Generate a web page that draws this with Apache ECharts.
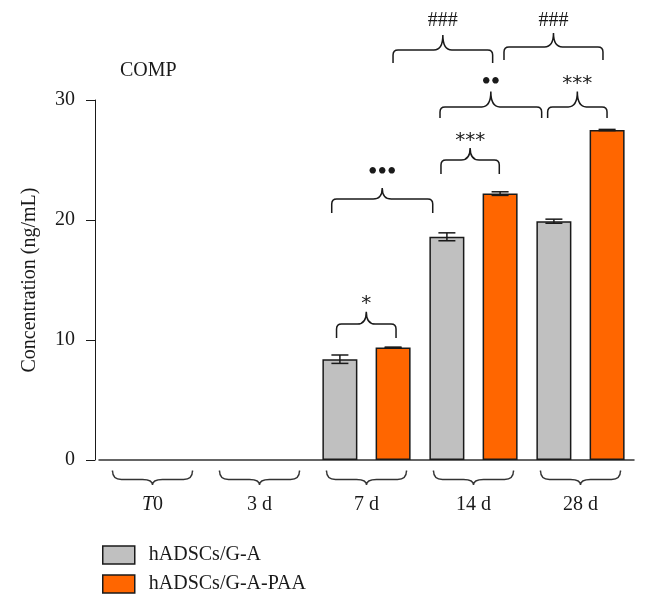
<!DOCTYPE html>
<html>
<head>
<meta charset="utf-8">
<script src="https://cdn.jsdelivr.net/npm/echarts@6/dist/echarts.min.js"></script>
<style>
  html, body { margin: 0; padding: 0; background: #fff; }
  #main { width: 650px; height: 606px; }
</style>
</head>
<body>
<div id="main"></div>
<script>
// data
var categories = ['T0', '3 d', '7 d', '14 d', '28 d'];
var seriesNames = ['hADSCs/G-A', 'hADSCs/G-A-PAA'];
var gaMean = [0, 0, 8.4, 18.6, 19.9];
var gaErr = [0, 0, 0.35, 0.33, 0.17];
var paaMean = [0, 0, 9.38, 22.2, 27.5];
var paaErr = [0, 0, 0.03, 0.15, 0.05];
var yTicks = [0, 10, 20, 30];

// significance braces: from / to (category index units), end, middle, peak and label height (ng/mL)
var braceFrom = [1.72, 1.675, 2.696, 2.687, 3.693, 2.248, 3.285];
var braceTo = [2.276, 2.619, 3.241, 3.637, 4.248, 3.179, 4.21];
var braceEnd = [10.17, 20.58, 23.83, 28.5, 28.5, 33.08, 33.33];
var braceMid = [11.33, 21.75, 25, 29.42, 29.42, 34.17, 34.42];
var bracePeak = [12.36, 22.67, 26, 30.7, 30.7, 35.42, 35.58];
var braceTextY = [13.5, 23.9, 27.1, 31.4, 31.83, 36.58, 36.58];
var braceText = ['*', '\u2022\u2022\u2022', '***', '\u2022\u2022', '***', '###', '###'];

var serif = '"Liberation Serif", "Times New Roman", serif';
var sans = '"DejaVu Sans", sans-serif';
var ink = '#1a1a1a';
var grey = '#c0c0c0';
var orange = '#ff6600';
var barWidth = 35;
var barGapRatio = 0.52;
var barShift = (barWidth + barWidth * barGapRatio) / 2;

function bracePath(x0, x1, yE, yH, yP, r, c) {
  var xm = (x0 + x1) / 2;
  var s = yE > yH ? 1 : -1;
  return 'M' + x0 + ',' + yE + ' L' + x0 + ',' + (yH + s * r) +
    ' Q' + x0 + ',' + yH + ' ' + (x0 + r) + ',' + yH +
    ' L' + (xm - c) + ',' + yH + ' Q' + xm + ',' + yH + ' ' + xm + ',' + yP +
    ' M' + xm + ',' + yP + ' Q' + xm + ',' + yH + ' ' + (xm + c) + ',' + yH +
    ' L' + (x1 - r) + ',' + yH + ' Q' + x1 + ',' + yH + ' ' + x1 + ',' + (yH + s * r) +
    ' L' + x1 + ',' + yE;
}

// text style for a brace label: asterisks in sans, bullets bigger, hashes in serif
function labelStyle(t) {
  if (t.charAt(0) === '*') return { fontFamily: sans, fontSize: 20, dy: 6 };
  if (t.charAt(0) === '\u2022') return { fontFamily: serif, fontSize: 27, dy: 0 };
  return { fontFamily: serif, fontSize: 20, dy: 0 };
}

function errorSeries(mean, err, shift) {
  return {
    type: 'custom',
    z: 5,
    clip: false,
    silent: true,
    encode: { x: 0, y: 1 },
    data: mean.map(function (m, i) { return [i, m, err[i]]; }),
    renderItem: function (params, api) {
      var i = api.value(0), m = api.value(1), e = api.value(2);
      if (!(e > 0)) return null;
      var x = api.coord([i, m])[0] + shift;
      var yt = api.coord([i, m + e])[1];
      var yb = api.coord([i, m - e])[1];
      var cap = 8.5;
      var st = { stroke: ink, lineWidth: 1.5 };
      return {
        type: 'group',
        children: [
          { type: 'line', shape: { x1: x, y1: yt, x2: x, y2: yb }, style: st },
          { type: 'line', shape: { x1: x - cap, y1: yt, x2: x + cap, y2: yt }, style: st },
          { type: 'line', shape: { x1: x - cap, y1: yb, x2: x + cap, y2: yb }, style: st }
        ]
      };
    }
  };
}

// zero means nothing was drawn for that group
function barData(values) {
  return values.map(function (v) { return v === 0 ? '-' : v; });
}

var chart = echarts.init(document.getElementById('main'));

var option = {
  animation: false,
  backgroundColor: '#fff',
  title: {
    text: 'COMP',
    left: 120,
    top: 61,
    padding: 0,
    textStyle: { fontFamily: serif, fontSize: 20, fontWeight: 'normal', color: ink }
  },
  legend: {
    orient: 'vertical',
    left: 97,
    top: 540,
    itemWidth: 32,
    itemHeight: 18,
    itemGap: 9,
    icon: 'rect',
    textStyle: { fontFamily: serif, fontSize: 20, color: ink, padding: [0, 0, 0, 9] },
    data: [
      { name: seriesNames[0], itemStyle: { color: grey, borderColor: ink, borderWidth: 1.5 } },
      { name: seriesNames[1], itemStyle: { color: orange, borderColor: ink, borderWidth: 1.5 } }
    ]
  },
  grid: { left: 99, right: 16, top: 100, bottom: 146, containLabel: false },
  xAxis: {
    type: 'category',
    data: categories,
    axisLine: { lineStyle: { color: '#333', width: 1.5 } },
    axisTick: { show: false },
    axisLabel: {
      margin: 35,
      color: ink,
      fontFamily: serif,
      fontSize: 20,
      formatter: function (v) { return v === 'T0' ? '{i|T}0' : v; },
      rich: { i: { fontStyle: 'italic', fontFamily: serif, fontSize: 20, color: ink } }
    }
  },
  yAxis: {
    type: 'value',
    min: yTicks[0],
    max: yTicks[yTicks.length - 1],
    interval: yTicks[1] - yTicks[0],
    offset: 4,
    name: 'Concentration (ng/mL)',
    nameLocation: 'middle',
    nameGap: 55,
    nameTextStyle: { fontFamily: serif, fontSize: 20, color: ink },
    axisLine: { show: true, lineStyle: { color: ink, width: 1 } },
    axisTick: { show: true, length: 9, lineStyle: { color: ink } },
    axisLabel: { margin: 20, color: ink, fontFamily: serif, fontSize: 20 },
    splitLine: { show: false }
  },
  series: [
    {
      name: seriesNames[0],
      type: 'bar',
      data: barData(gaMean),
      barWidth: barWidth,
      barGap: Math.round(barGapRatio * 100) + '%',
      itemStyle: { color: grey, borderColor: ink, borderWidth: 1.5 }
    },
    {
      name: seriesNames[1],
      type: 'bar',
      data: barData(paaMean),
      barWidth: barWidth,
      itemStyle: { color: orange, borderColor: ink, borderWidth: 1.5 }
    },
    errorSeries(gaMean, gaErr, -barShift),
    errorSeries(paaMean, paaErr, barShift),
    {
      // curly braces under the category labels
      type: 'custom',
      silent: true,
      clip: false,
      encode: { x: 0, y: 1 },
      data: categories.map(function (c, i) { return [i, 0]; }),
      renderItem: function (params, api) {
        var i = api.value(0);
        var band = api.size([1, 0])[0];
        var x = api.coord([i, 0])[0];
        var y0 = api.coord([i, 0])[1];
        var half = band * 0.374;
        return {
          type: 'path',
          shape: { pathData: bracePath(x - half, x + half, y0 + 12, y0 + 19.5, y0 + 25, 9, 10) },
          style: { stroke: '#333', fill: null, lineWidth: 1.4 }
        };
      }
    },
    {
      // significance braces
      type: 'custom',
      silent: true,
      clip: false,
      encode: { x: 0, y: 1 },
      data: braceFrom.map(function (f, i) { return [f, braceEnd[i]]; }),
      renderItem: function (params, api) {
        var k = params.dataIndex;
        var band = api.size([1, 0])[0];
        var base = api.coord([0, 0])[0];
        var x0 = base + braceFrom[k] * band;
        var x1 = base + braceTo[k] * band;
        var yE = api.coord([0, braceEnd[k]])[1];
        var yH = api.coord([0, braceMid[k]])[1];
        var yP = api.coord([0, bracePeak[k]])[1];
        var yT = api.coord([0, braceTextY[k]])[1];
        var ls = labelStyle(braceText[k]);
        return {
          type: 'group',
          children: [
            {
              type: 'path',
              shape: { pathData: bracePath(x0, x1, yE, yH, yP, 5, 9) },
              style: { stroke: ink, fill: null, lineWidth: 1.5 }
            },
            {
              type: 'text',
              style: {
                text: braceText[k],
                x: (x0 + x1) / 2,
                y: yT + ls.dy,
                align: 'center',
                verticalAlign: 'middle',
                fontFamily: ls.fontFamily,
                fontSize: ls.fontSize,
                fill: ink
              }
            }
          ]
        };
      }
    }
  ]
};

chart.setOption(option);
</script>
</body>
</html>
